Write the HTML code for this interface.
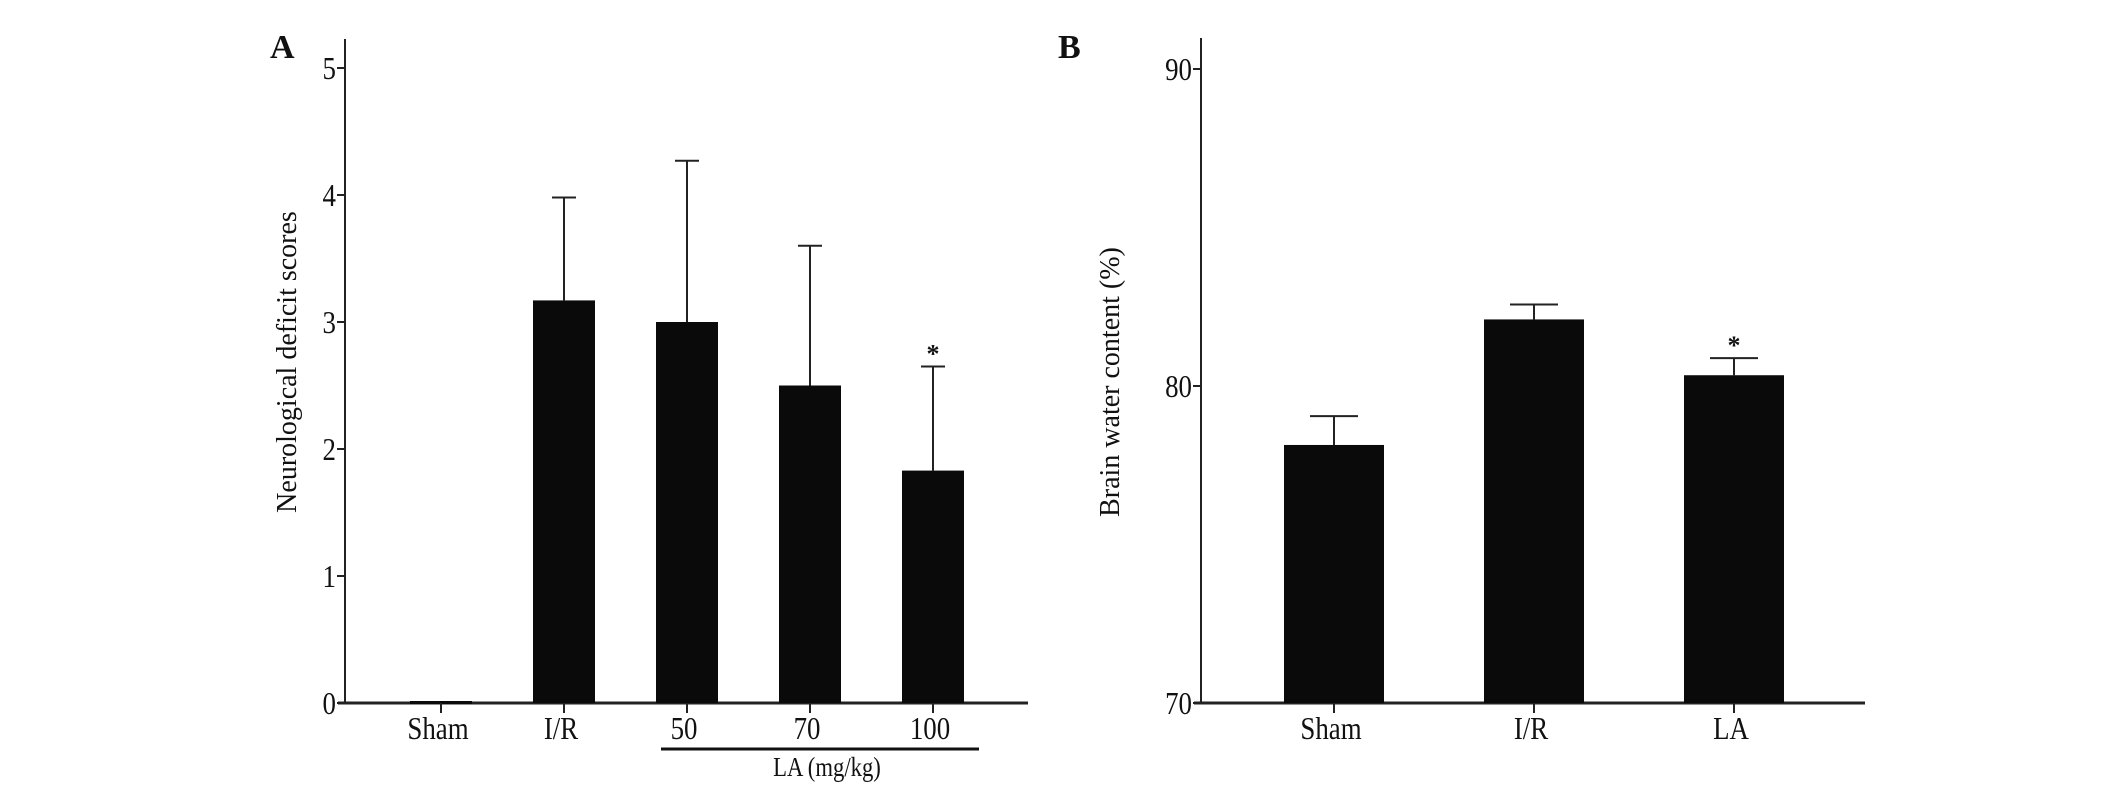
<!DOCTYPE html>
<html><head><meta charset="utf-8"><style>
html,body{margin:0;padding:0;background:#fff;}
svg{display:block;font-family:"Liberation Serif",serif;}
</style></head><body>
<svg id="chart" width="2126" height="789" viewBox="0 0 2126 789" xmlns="http://www.w3.org/2000/svg">
<g id="panelA"></g>
<g id="panelB"></g>
</svg>
<script>
const aCategories = ["Sham","I/R","50","70","100"];
const aValues = [0, 3.17, 3.0, 2.5, 1.83];
const aErrors = [0, 0.81, 1.27, 1.1, 0.82];
const aStars = [false,false,false,false,true];
const aTicks = [0,1,2,3,4,5];

const bCategories = ["Sham","I/R","LA"];
const bValues = [78.14, 82.1, 80.34];
const bErrors = [0.91, 0.47, 0.54];
const bStars = [false,false,true];
const bTicks = [70,80,90];

const NS="http://www.w3.org/2000/svg";
function mk(parent, tag, attrs, text){
  const e=document.createElementNS(NS,tag);
  for(const k in attrs) e.setAttribute(k,attrs[k]);
  if(text!==undefined) e.textContent=text;
  parent.appendChild(e); return e;
}
function condensed(parent, x, y, size, anchor, text){
  return mk(parent,'text',{x:0,y:0,'font-size':size,'text-anchor':anchor,fill:'#111',transform:`translate(${x},${y}) scale(0.84,1)`},text);
}
function drawPanel(g, cfg){
  const y = v => cfg.y0 - (v - cfg.vmin) * cfg.ppu;
  const x = i => cfg.xStart + i * cfg.step;
  const ya = mk(g,'line',{x1:cfg.ax,y1:cfg.axTop,x2:cfg.ax,y2:cfg.y0,stroke:'#222','stroke-width':2});
  
  
  const xa = mk(g,'line',{x1:cfg.ax-7,y1:cfg.y0,x2:cfg.axEnd,y2:cfg.y0,stroke:'#222','stroke-width':3});
  
  
  cfg.ticks.forEach(t=>{
    const ty=y(t);
    mk(g,'line',{x1:cfg.ax-8,y1:ty,x2:cfg.ax,y2:ty,stroke:'#222','stroke-width':2});
    const tl = condensed(g, cfg.ax-9, ty+11, 32, 'end', String(t));
    
    
  });
  cfg.cats.forEach((c,i)=>{
    const cx=x(i), top=y(cfg.vals[i]), ey=y(cfg.vals[i]+cfg.errs[i]);
    if(cfg.vals[i] > cfg.vmin){
      if(cfg.errs[i]>0){
        mk(g,'line',{x1:cx,y1:ey,x2:cx,y2:top,stroke:'#222','stroke-width':2});
        mk(g,'line',{x1:cx-cfg.cap,y1:ey,x2:cx+cfg.cap,y2:ey,stroke:'#222','stroke-width':2});
      }
      const r = mk(g,'rect',{x:cx-cfg.bw/2,y:top,width:cfg.bw,height:cfg.y0-top,fill:'#0a0a0a'});
      
      
    } else {
      const r = mk(g,'rect',{x:cx-cfg.bw/2,y:cfg.y0-2,width:cfg.bw,height:3,fill:'#0a0a0a'});
      
      
    }
    if(cfg.stars[i]){
      const s = mk(g,'text',{x:cx,y:ey-4,'font-size':26,'text-anchor':'middle',fill:'#111','font-weight':'bold'},'*');
      
      
    }
    mk(g,'line',{x1:cx,y1:cfg.y0,x2:cx,y2:cfg.y0+10,stroke:'#222','stroke-width':2});
    const l = condensed(g, cx-3, cfg.y0+36, 32, 'middle', c);
    
    
  });
  const tt = mk(g,'text',{x:0,y:0,'font-size':28,'text-anchor':'middle',fill:'#111',transform:`translate(${cfg.titleX},${cfg.titleY}) rotate(-90)`},cfg.title);
  
  
  const pl = mk(g,'text',{x:cfg.letterX,y:58,'font-size':34,'font-weight':'bold',fill:'#111'},cfg.letter);
  
  
}
const gA=document.getElementById('panelA');
drawPanel(gA,{p:'a',cats:aCategories,vals:aValues,errs:aErrors,stars:aStars,ticks:aTicks,
  vmin:0,y0:703,ppu:127,ax:345,axTop:39,axEnd:1028,xStart:441,step:123,bw:62,cap:12,
  title:'Neurological deficit scores',titleX:296,titleY:362,letter:'A',letterX:270});
const ul = mk(gA,'line',{x1:661,y1:749,x2:979,y2:749,stroke:'#111','stroke-width':3});


const lal = condensed(gA, 827, 776, 27, 'middle', 'LA (mg/kg)');



const gB=document.getElementById('panelB');
drawPanel(gB,{p:'b',cats:bCategories,vals:bValues,errs:bErrors,stars:bStars,ticks:bTicks,
  vmin:70,y0:703,ppu:31.7,ax:1201,axTop:38,axEnd:1865,xStart:1334,step:200,bw:100,cap:24,
  title:'Brain water content (%)',titleX:1119,titleY:382,letter:'B',letterX:1058});
</script>
</body></html>
